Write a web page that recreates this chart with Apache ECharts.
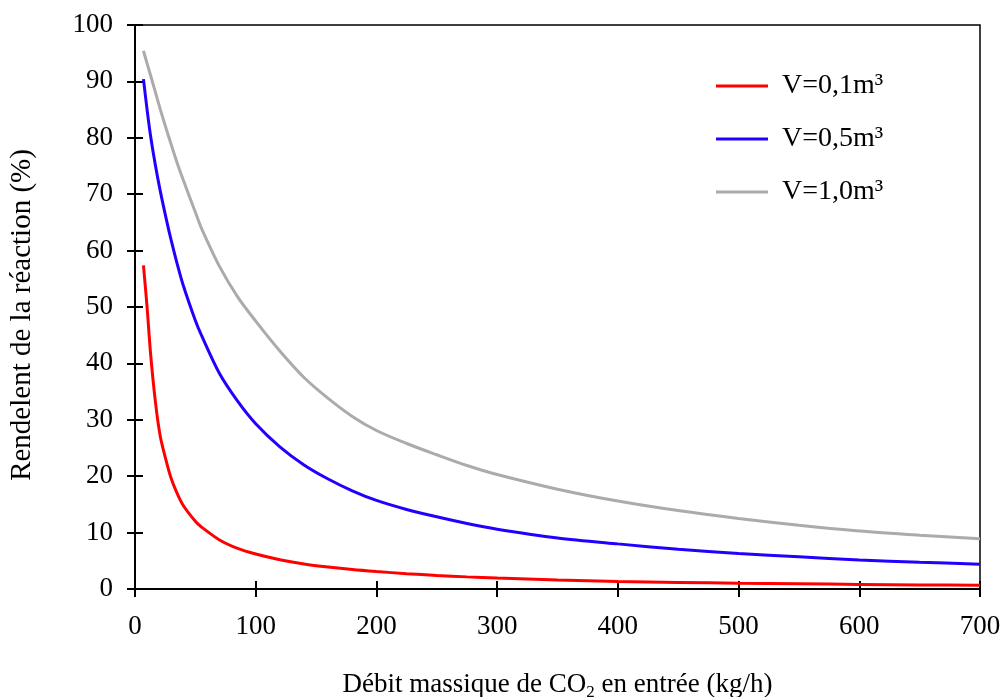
<!DOCTYPE html>
<html>
<head>
<meta charset="utf-8">
<script src="https://cdn.jsdelivr.net/npm/echarts@6/dist/echarts.min.js"></script>
<style>
html,body{margin:0;padding:0;background:#fff;}
#main{width:1001px;height:697px;}
</style>
</head>
<body>
<div id="main"></div>
<script>
const xValues = [7, 10, 13, 17, 21, 26, 30, 35, 40, 50, 55, 70, 85, 100, 120, 140, 160, 180, 200, 225, 250, 275, 300, 350, 400, 450, 500, 550, 600, 650, 700];
const red01 = [57.4, 50.0, 41.5, 33.0, 27.0, 22.6, 19.6, 16.9, 14.8, 12.0, 11.0, 8.7, 7.2, 6.2, 5.2, 4.45, 3.9, 3.45, 3.1, 2.72, 2.4, 2.15, 1.95, 1.6, 1.35, 1.17, 1.02, 0.92, 0.82, 0.73, 0.65];
const blue05 = [90.4, 85.0, 80.2, 75.0, 70.5, 65.5, 61.8, 57.6, 53.8, 47.6, 45.0, 38.2, 33.3, 29.3, 25.2, 22.0, 19.5, 17.4, 15.7, 14.1, 12.8, 11.6, 10.6, 9.05, 8.0, 7.05, 6.3, 5.7, 5.15, 4.75, 4.4];
const gray10 = [95.4, 93.2, 91.0, 88.0, 85.0, 81.5, 78.8, 75.5, 72.5, 66.8, 64.0, 57.2, 51.8, 47.5, 42.2, 37.5, 33.8, 30.6, 28.1, 25.8, 23.8, 21.9, 20.3, 17.7, 15.6, 13.9, 12.5, 11.3, 10.3, 9.55, 8.9];
const seriesNames = ['V=0,1m³', 'V=0,5m³', 'V=1,0m³'];
const xTitle = 'Débit massique de CO{sub|2} en entrée (kg/h)';
const yTitle = 'Rendelent de la réaction (%)';

const FONT = '"Liberation Serif", "Times New Roman", serif';
const pairs = ys => xValues.map((x, i) => [x, ys[i]]);
const colors = ['#ff0000', '#2200ff', '#aeaaaa'];

const chart = echarts.init(document.getElementById('main'), null, {renderer: 'canvas'});
const baseX = {type: 'value', min: 0, max: 700, interval: 100, gridIndex: 0};
const baseY = {type: 'value', min: 0, max: 100, interval: 10, gridIndex: 0};
chart.setOption({
  animation: false,
  backgroundColor: '#fff',
  grid: {left: 135, right: 21, top: 25, bottom: 108, containLabel: false, outerBoundsMode: 'none',
    show: true, borderColor: '#000', borderWidth: 1.5, backgroundColor: 'transparent'},
  legend: {
    orient: 'vertical', left: 711, top: 67,
    itemWidth: 52, itemHeight: 3, itemGap: 25,
    icon: 'rect',
    data: seriesNames,
    textStyle: {fontFamily: FONT, fontSize: 28, color: '#000', lineHeight: 21, padding: [0, 0, 0, 9]}
  },
  xAxis: [
    Object.assign({}, baseX, {
      name: xTitle, nameLocation: 'middle', nameGap: 80,
      nameTextStyle: {fontFamily: FONT, fontSize: 27, color: '#000',
        rich: {sub: {fontFamily: FONT, fontSize: 17, verticalAlign: 'bottom', padding: [15, 0, 0, 0], color: '#000'}}},
      axisLine: {show: true, onZero: false, lineStyle: {color: '#000', width: 2}},
      axisTick: {show: true, inside: false, length: 8, lineStyle: {color: '#000', width: 2}},
      axisLabel: {fontFamily: FONT, fontSize: 27, color: '#000', margin: 24},
      splitLine: {show: false}
    }),
    Object.assign({}, baseX, {
      position: 'bottom',
      axisLine: {show: false},
      axisTick: {show: true, inside: true, length: 8, lineStyle: {color: '#000', width: 2}},
      axisLabel: {show: false},
      splitLine: {show: false}
    })
  ],
  yAxis: [
    Object.assign({}, baseY, {
      name: yTitle, nameLocation: 'middle', nameGap: 98, nameRotate: 90,
      nameTextStyle: {fontFamily: FONT, fontSize: 29, color: '#000', padding: [0, 16, 0, 0]},
      axisLine: {show: true, onZero: false, lineStyle: {color: '#000', width: 2}},
      axisTick: {show: true, inside: false, length: 8, lineStyle: {color: '#000', width: 2}},
      axisLabel: {fontFamily: FONT, fontSize: 27, color: '#000', margin: 22},
      splitLine: {show: false}
    }),
    Object.assign({}, baseY, {
      position: 'left',
      axisLine: {show: false},
      axisTick: {show: true, inside: true, length: 8, lineStyle: {color: '#000', width: 2}},
      axisLabel: {show: false},
      splitLine: {show: false}
    })
  ],
  series: [red01, blue05, gray10].map((ys, i) => ({
    name: seriesNames[i], type: 'line', data: pairs(ys),
    xAxisIndex: 0, yAxisIndex: 0,
    showSymbol: false, symbol: 'none',
    smooth: 0.3,
    lineStyle: {color: colors[i], width: 3},
    itemStyle: {color: colors[i]}
  }))
});
</script>
</body>
</html>
